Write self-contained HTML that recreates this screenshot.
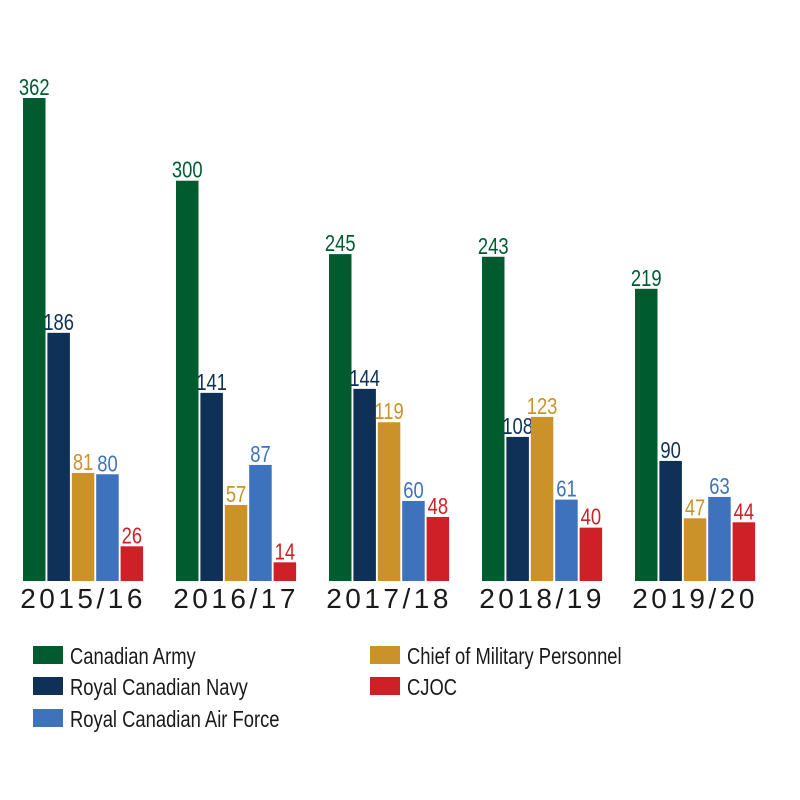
<!DOCTYPE html>
<html><head><meta charset="utf-8"><style>
html,body{margin:0;padding:0;background:#fff;}
svg{display:block;font-family:"Liberation Sans",sans-serif;}
</style></head><body>
<svg id="chart" width="800" height="800" viewBox="0 0 800 800"></svg>
<script>
const years = ["2015/16","2016/17","2017/18","2018/19","2019/20"];
const seriesNames = ["Canadian Army","Royal Canadian Navy","Chief of Military Personnel","Royal Canadian Air Force","CJOC"];
const army = [362,300,245,243,219];
const navy = [186,141,144,108,90];
const cmp = [81,57,119,123,47];
const rcaf = [80,87,60,61,63];
const cjoc = [26,14,48,40,44];
const series = [army,navy,cmp,rcaf,cjoc];
const colors = ["#005c2e","#0f3057","#cc922a","#3f72bc","#cf2027"];
const svg = document.getElementById('chart');
const NS = "http://www.w3.org/2000/svg";
const baseY = 581, pxPerUnit = 483/362;
const y = v => baseY - v*pxPerUnit;
const groupX = i => 23 + i*153;
const barX = (i,s) => groupX(i) + s*24.4;
const barW = 22.5;
function mk(tag, attrs){ const e=document.createElementNS(NS,tag); for(const k in attrs) e.setAttribute(k,attrs[k]); svg.appendChild(e); return e; }
years.forEach((yr,i)=>{
  series.forEach((arr,s)=>{
    const v=arr[i];
    const r=mk('rect',{x:barX(i,s),y:y(v),width:barW,height:baseY-y(v),fill:colors[s]});
    
    
    const cx=barX(i,s)+barW/2;
    const t=mk('text',{x:0,y:0,'text-anchor':'middle','font-size':23,fill:colors[s],transform:`translate(${cx},${y(v)-3}) scale(0.8,1)`});
    t.textContent=v;
    
    
  });
  const gx=groupX(i)+(4*24.4+barW)/2;
  const t=mk('text',{x:gx,y:608,'text-anchor':'middle','font-size':28,fill:'#1a1a1a','letter-spacing':'3.5'});
  t.textContent=yr;
  
  
});
const legendPos=[[33,646],[33,677],[370,646],[33,709],[370,677]];
seriesNames.forEach((n,s)=>{
  const [lx,ly]=legendPos[s];
  const r=mk('rect',{x:lx,y:ly,width:30,height:18,fill:colors[s]});
  
  
  const t=mk('text',{x:0,y:0,'font-size':23,fill:'#1a1a1a',transform:`translate(${lx+37},${ly+18}) scale(0.8,1)`});
  t.textContent=n;
  
  
});
</script>
</body></html>
